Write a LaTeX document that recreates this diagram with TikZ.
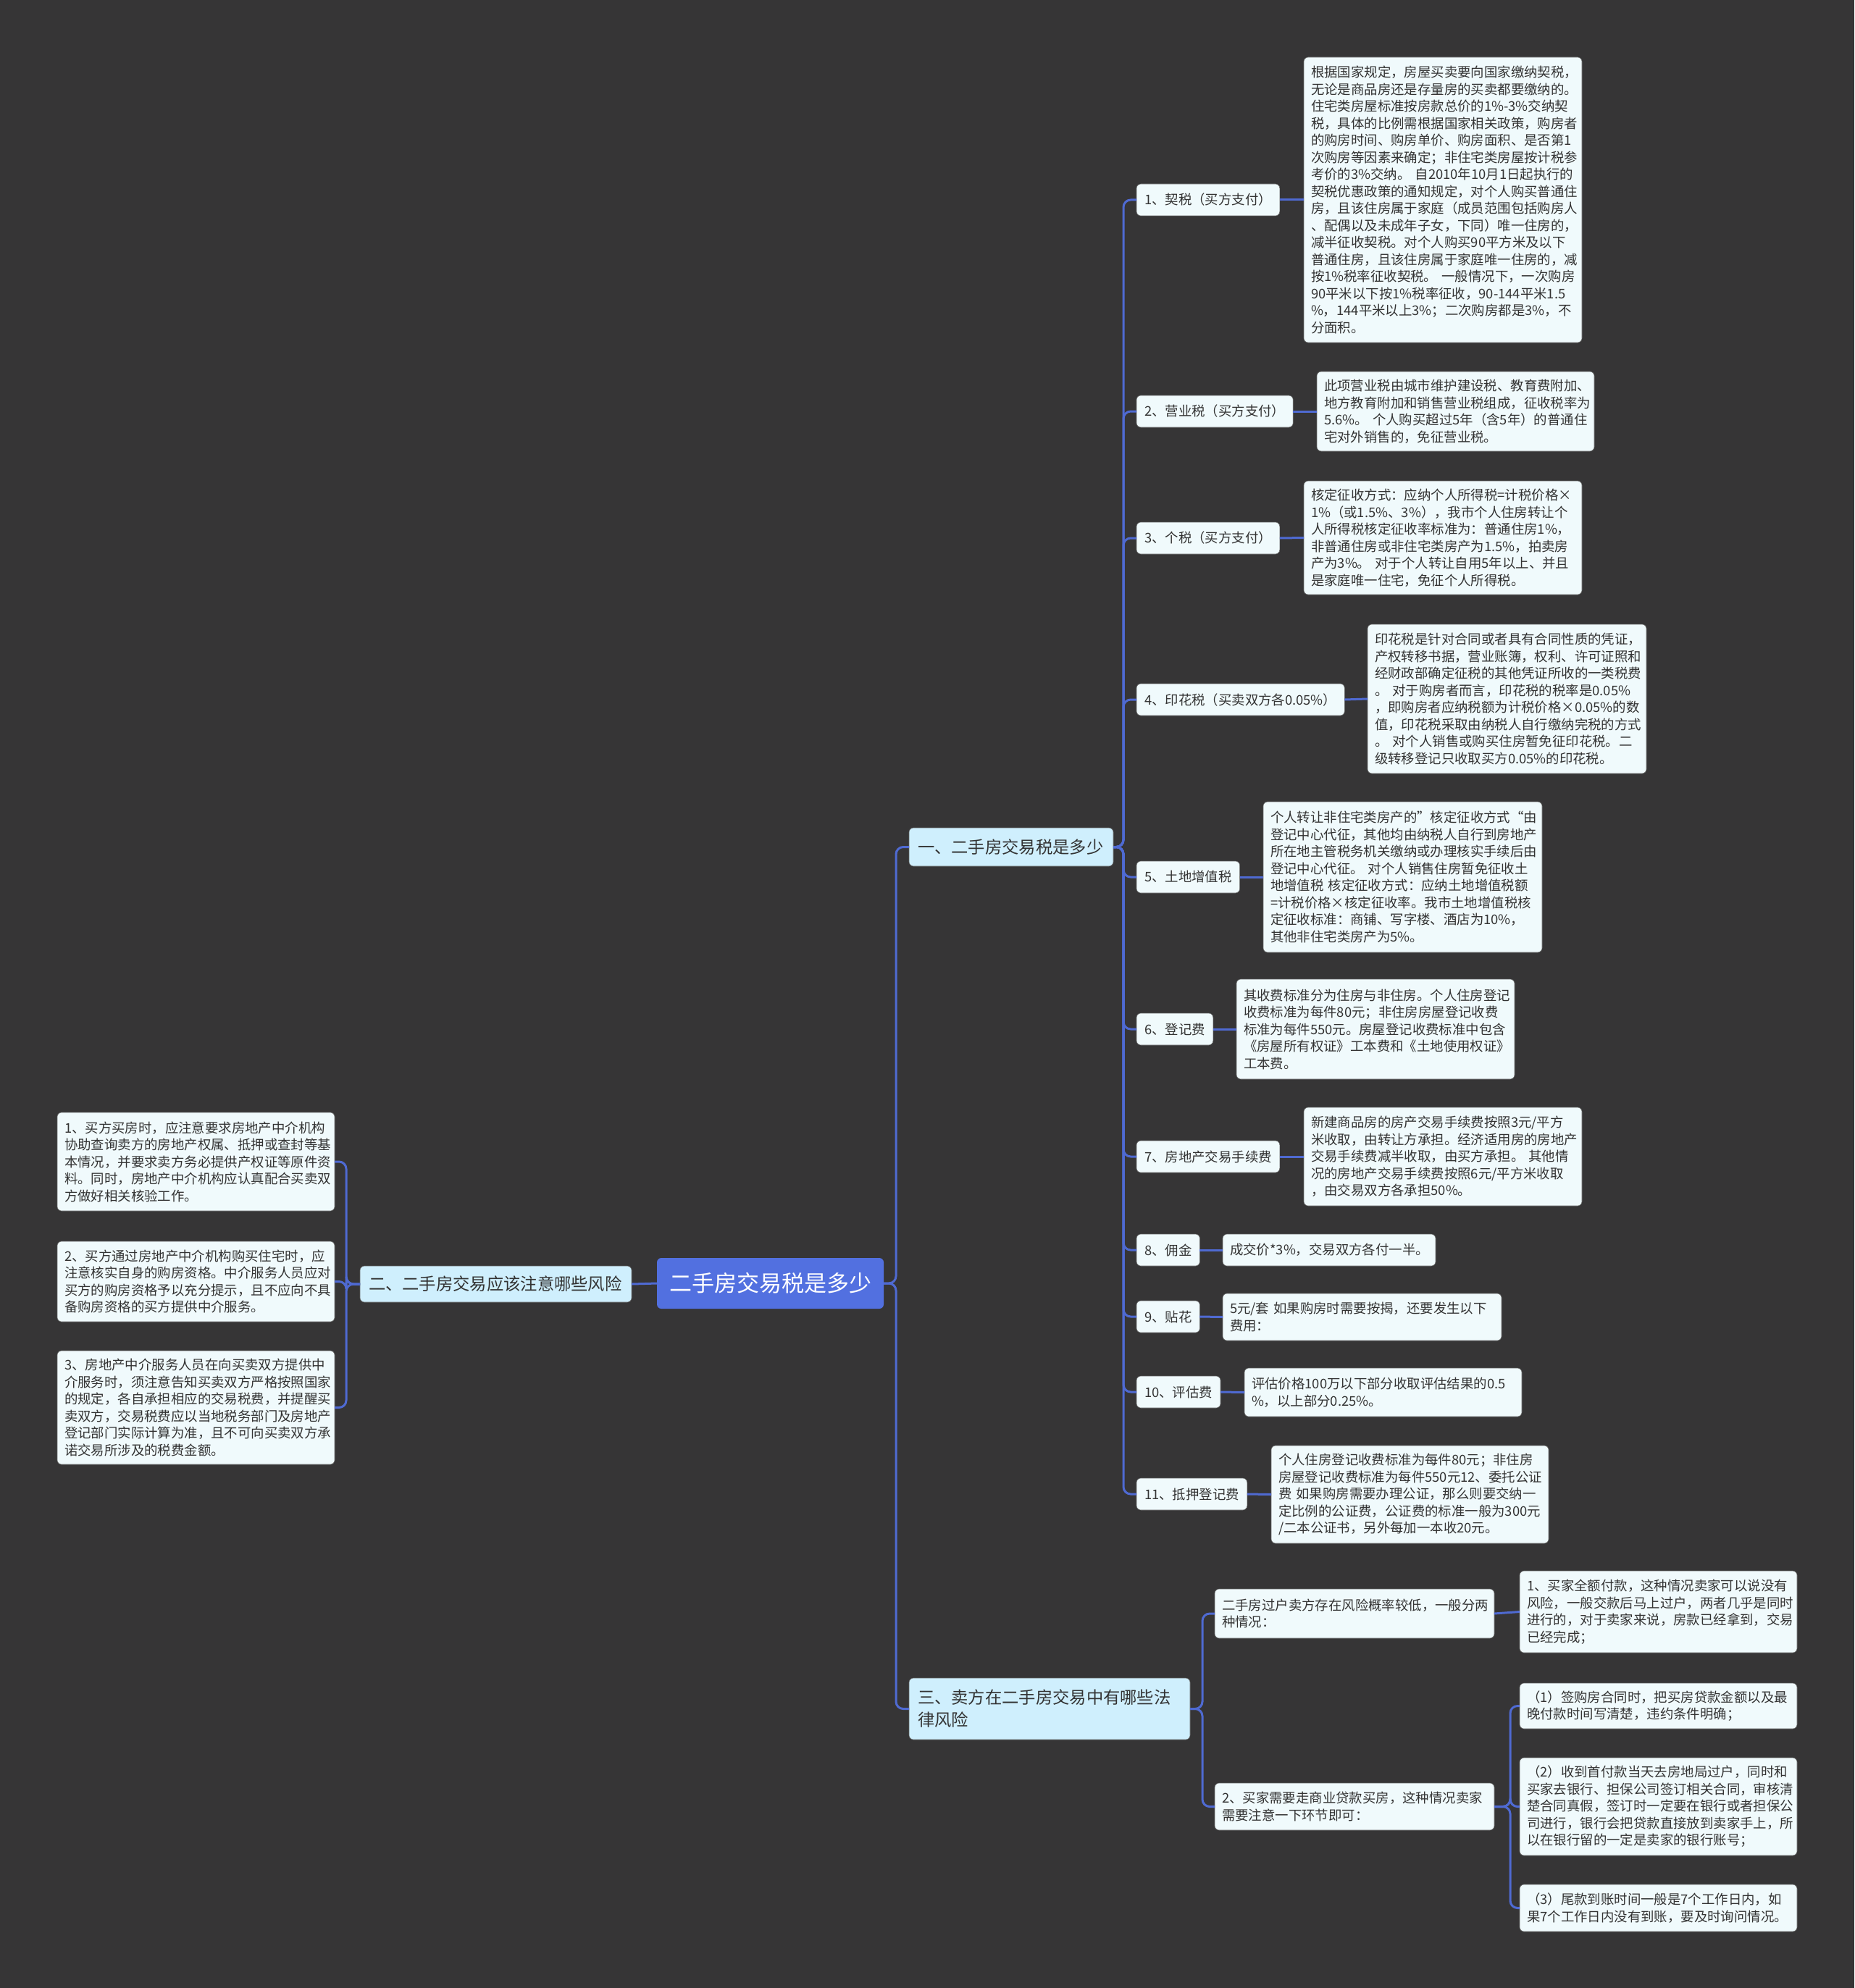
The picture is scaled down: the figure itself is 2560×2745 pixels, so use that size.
\documentclass[tikz,border=0pt]{standalone}
\usepackage{fontspec}
\setmainfont{Noto Sans CJK SC}
\begin{document}
\begin{tikzpicture}[x=1pt,y=-1pt,
  every node/.style={inner sep=0pt, outer sep=0pt},
  conn/.style={draw=lineblue, line width=3pt, rounded corners=10pt},
  rootbox/.style={rectangle, rounded corners=6pt, fill=rootblue, text=white, font=\fontsize{31}{36}\selectfont, align=center},
  branchbox/.style={rectangle, rounded corners=6pt, fill=branchfill, draw=black!60, line width=0.6pt, text=textgrey, font=\fontsize{23.3}{31}\selectfont, align=left, inner xsep=12pt, anchor=north west},
  labelbox/.style={rectangle, rounded corners=6pt, fill=leaffill, draw=black!60, line width=0.6pt, text=textgrey, font=\fontsize{18.4}{23.5}\selectfont, inner xsep=11pt, minimum height=44pt, anchor=west},
  leafbox/.style={rectangle, rounded corners=6pt, fill=leaffill, draw=black!60, line width=0.6pt, text=textgrey, font=\fontsize{18.4}{23.5}\selectfont, align=left, inner xsep=10pt, anchor=north west}
]
\definecolor{bgcol}{HTML}{363536}
\definecolor{lineblue}{HTML}{4F6AD2}
\definecolor{rootblue}{HTML}{5270E0}
\definecolor{branchfill}{HTML}{CFEFFD}
\definecolor{leaffill}{HTML}{F0FAFC}
\definecolor{textgrey}{HTML}{333333}
\fill[bgcol] (0,0) rectangle (2560,2745);
\useasboundingbox (0,0) rectangle (2560,2745);

% root and branches
\node[rootbox, minimum width=313pt, minimum height=70pt] (root) at (1063.5,1772) {二手房交易税是多少};
\node[branchbox, text width=258pt, minimum height=53pt] (b1) at (1255,1143) {一、二手房交易税是多少};
\node[branchbox, text width=351pt, minimum height=50pt] (b2) at (497,1748) {二、二手房交易应该注意哪些风险};
\node[branchbox, text width=364pt, minimum height=85pt] (b3) at (1255,2317) {三、卖方在二手房交易中有哪些法\\律风险};

% labels of branch one
\node[labelbox] (k1) at (1569,276) {1、契税（买方支付）};
\node[labelbox] (k2) at (1569,568) {2、营业税（买方支付）};
\node[labelbox] (k3) at (1569,743) {3、个税（买方支付）};
\node[labelbox] (k4) at (1569,966) {4、印花税（买卖双方各0.05\%）};
\node[labelbox] (k5) at (1569,1211) {5、土地增值税};
\node[labelbox] (k6) at (1569,1421) {6、登记费};
\node[labelbox] (k7) at (1569,1597) {7、房地产交易手续费};
\node[labelbox] (k8) at (1569,1726) {8、佣金};
\node[labelbox] (k9) at (1569,1818) {9、贴花};
\node[labelbox] (k10) at (1569,1922) {10、评估费};
\node[labelbox] (k11) at (1569,2063) {11、抵押登记费};

% leaves of branch one
\node[leafbox, text width=364pt, minimum height=394pt] (v1) at (1800,79) {根据国家规定，房屋买卖要向国家缴纳契税，\\无论是商品房还是存量房的买卖都要缴纳的。\\住宅类房屋标准按房款总价的1\%-3\%交纳契\\税，具体的比例需根据国家相关政策，购房者\\的购房时间、购房单价、购房面积、是否第1\\次购房等因素来确定；非住宅类房屋按计税参\\考价的3\%交纳。~自2010年10月1日起执行的\\契税优惠政策的通知规定，对个人购买普通住\\房，且该住房属于家庭（成员范围包括购房人\\、配偶以及未成年子女，下同）唯一住房的，\\减半征收契税。对个人购买90平方米及以下\\普通住房，且该住房属于家庭唯一住房的，减\\按1\%税率征收契税。~一般情况下，一次购房\\90平米以下按1\%税率征收，90-144平米1.5\\\%，144平米以上3\%；二次购房都是3\%，不\\分面积。};
\node[leafbox, text width=363pt, minimum height=110pt] (v2) at (1818,513) {此项营业税由城市维护建设税、教育费附加、\\地方教育附加和销售营业税组成，征收税率为\\5.6\%。~个人购买超过5年（含5年）的普通住\\宅对外销售的，免征营业税。};
\node[leafbox, text width=364pt, minimum height=157pt] (v3) at (1800,664) {核定征收方式：应纳个人所得税=计税价格×\\1\%（或1.5\%、3\%），我市个人住房转让个\\人所得税核定征收率标准为：普通住房1\%，\\非普通住房或非住宅类房产为1.5\%，拍卖房\\产为3\%。~对于个人转让自用5年以上、并且\\是家庭唯一住宅，免征个人所得税。};
\node[leafbox, text width=365pt, minimum height=206pt] (v4) at (1888,862) {印花税是针对合同或者具有合同性质的凭证，\\产权转移书据，营业账簿，权利、许可证照和\\经财政部确定征税的其他凭证所收的一类税费\\。~对于购房者而言，印花税的税率是0.05\%\\，即购房者应纳税额为计税价格×0.05\%的数\\值，印花税采取由纳税人自行缴纳完税的方式\\。~对个人销售或购买住房暂免征印花税。二\\级转移登记只收取买方0.05\%的印花税。};
\node[leafbox, text width=365pt, minimum height=208pt] (v5) at (1744,1107) {个人转让非住宅类房产的”核定征收方式“由\\登记中心代征，其他均由纳税人自行到房地产\\所在地主管税务机关缴纳或办理核实手续后由\\登记中心代征。~对个人销售住房暂免征收土\\地增值税~核定征收方式：应纳土地增值税额\\=计税价格×核定征收率。我市土地增值税核\\定征收标准：商铺、写字楼、酒店为10\%，\\其他非住宅类房产为5\%。};
\node[leafbox, text width=364pt, minimum height=138pt] (v6) at (1707,1352) {其收费标准分为住房与非住房。个人住房登记\\收费标准为每件80元；非住房房屋登记收费\\标准为每件550元。房屋登记收费标准中包含\\《房屋所有权证》工本费和《土地使用权证》\\工本费。};
\node[leafbox, text width=364pt, minimum height=136pt] (v7) at (1800,1529) {新建商品房的房产交易手续费按照3元/平方\\米收取，由转让方承担。经济适用房的房地产\\交易手续费减半收取，由买方承担。~其他情\\况的房地产交易手续费按照6元/平方米收取\\，由交易双方各承担50\%。};
\node[leafbox, text width=274pt, minimum height=44pt] (v8) at (1688,1704) {成交价*3\%，交易双方各付一半。};
\node[leafbox, text width=365pt, minimum height=65pt] (v9) at (1688,1786) {5元/套~如果购房时需要按揭，还要发生以下\\费用：};
\node[leafbox, text width=363pt, minimum height=67pt] (v10) at (1718,1889) {评估价格100万以下部分收取评估结果的0.5\\\%，以上部分0.25\%。};
\node[leafbox, text width=363pt, minimum height=135pt] (v11) at (1755,1996) {个人住房登记收费标准为每件80元；非住房\\房屋登记收费标准为每件550元12、委托公证\\费~如果购房需要办理公证，那么则要交纳一\\定比例的公证费，公证费的标准一般为300元\\/二本公证书，另外每加一本收20元。};

% leaves of branch two
\node[leafbox, text width=363pt, minimum height=136pt] (w1) at (79,1536) {1、买方买房时，应注意要求房地产中介机构\\协助查询卖方的房地产权属、抵押或查封等基\\本情况，并要求卖方务必提供产权证等原件资\\料。同时，房地产中介机构应认真配合买卖双\\方做好相关核验工作。};
\node[leafbox, text width=363pt, minimum height=111pt] (w2) at (79,1714) {2、买方通过房地产中介机构购买住宅时，应\\注意核实自身的购房资格。中介服务人员应对\\买方的购房资格予以充分提示，且不应向不具\\备购房资格的买方提供中介服务。};
\node[leafbox, text width=363pt, minimum height=157pt] (w3) at (79,1865) {3、房地产中介服务人员在向买卖双方提供中\\介服务时，须注意告知买卖双方严格按照国家\\的规定，各自承担相应的交易税费，并提醒买\\卖双方，交易税费应以当地税务部门及房地产\\登记部门实际计算为准，且不可向买卖双方承\\诺交易所涉及的税费金额。};

% branch three
\node[leafbox, text width=366pt, minimum height=68pt] (c1) at (1677,2194) {二手房过户卖方存在风险概率较低，一般分两\\种情况：};
\node[leafbox, text width=366pt, minimum height=65pt] (c2) at (1677,2462) {2、买家需要走商业贷款买房，这种情况卖家\\需要注意一下环节即可：};
\node[leafbox, text width=363pt, minimum height=113pt] (c1a) at (2098,2169) {1、买家全额付款，这种情况卖家可以说没有\\风险，一般交款后马上过户，两者几乎是同时\\进行的，对于卖家来说，房款已经拿到，交易\\已经完成；};
\node[leafbox, text width=363pt, minimum height=63pt] (c2a) at (2098,2324) {（1）签购房合同时，把买房贷款金额以及最\\晚付款时间写清楚，违约条件明确；};
\node[leafbox, text width=363pt, minimum height=135pt] (c2b) at (2098,2427) {（2）收到首付款当天去房地局过户，同时和\\买家去银行、担保公司签订相关合同，审核清\\楚合同真假，签订时一定要在银行或者担保公\\司进行，银行会把贷款直接放到卖家手上，所\\以在银行留的一定是卖家的银行账号；};
\node[leafbox, text width=363pt, minimum height=65pt] (c2c) at (2098,2602) {（3）尾款到账时间一般是7个工作日内，如\\果7个工作日内没有到账，要及时询问情况。};

% connectors
\foreach \c in {b1,b3} \draw[conn] (root.east) -- ++(17,0) |- (\c.west);
\draw[conn] (root.west) -- (b2.east);
\foreach \c in {w1,w2,w3} \draw[conn] (b2.west) -- ++(-19,0) |- (\c.east);
\foreach \c in {k1,k2,k3,k4,k5,k6,k7,k8,k9,k10,k11} \draw[conn] (b1.east) -- ++(14,0) |- (\c.west);
\foreach \a/\b in {k1/v1,k2/v2,k3/v3,k4/v4,k5/v5,k6/v6,k7/v7,k8/v8,k9/v9,k10/v10,k11/v11} \draw[conn] (\a.east) -- (\b.west);
\foreach \c in {c1,c2} \draw[conn] (b3.east) -- ++(17,0) |- (\c.west);
\draw[conn] (c1.east) -- (c1a.west);
\foreach \c in {c2a,c2b,c2c} \draw[conn] (c2.east) -- ++(22,0) |- (\c.west);
\end{tikzpicture}
\end{document}
